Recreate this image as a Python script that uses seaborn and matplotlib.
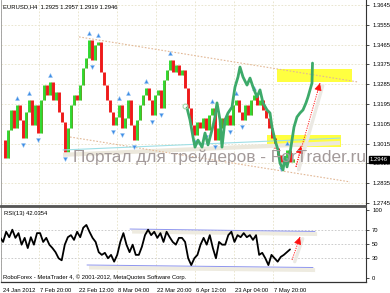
import numpy as np
import matplotlib
matplotlib.use("Agg")
import matplotlib.pyplot as plt
import matplotlib.transforms as mtrans
from matplotlib.patches import Rectangle
import seaborn as sns

# ---------------- data ----------------
close = [1.3031, 1.2950, 1.3077, 1.3168, 1.3086, 1.3190, 1.3122, 1.3040, 1.3159, 1.3213,
         1.3100, 1.3190, 1.3063, 1.3213, 1.3281, 1.3236, 1.3295, 1.3213, 1.3250, 1.3159,
         1.3113, 1.2977, 1.3086, 1.3190, 1.3236, 1.3213, 1.3281, 1.3359, 1.3404, 1.3486,
         1.3395, 1.3463, 1.3477, 1.3341, 1.3281, 1.3213, 1.3159, 1.3100, 1.3136, 1.3190,
         1.3086, 1.3131, 1.3213, 1.3100, 1.3031, 1.3122, 1.3190, 1.3236, 1.3268, 1.3213,
         1.3145, 1.3236, 1.3259, 1.3177, 1.3304, 1.3350, 1.3395, 1.3341, 1.3372, 1.3327,
         1.3350, 1.3268, 1.3177, 1.3100, 1.3054, 1.3113, 1.3086, 1.3131, 1.3077, 1.3145,
         1.3177, 1.3031, 1.3086, 1.3131, 1.3100, 1.3145, 1.3100, 1.3190, 1.3213, 1.3159,
         1.3122, 1.3190, 1.3145, 1.3213, 1.3236, 1.3190, 1.3213, 1.3168, 1.3131, 1.3086,
         1.3040, 1.2995, 1.2963, 1.2931, 1.2950, 1.2986, 1.2931, 1.2946]

green_bar = [61.67, 62.67, 63.67, 64.33, 65.33, 66.67, 67.67, 68.67, 70.0, 71.0, 71.67,
             72.67, 73.33, 74.33, 75.33, 76.67, 77.0, 77.67, 78.67, 79.33, 80.33, 81.67,
             82.67, 83.67, 85.0, 86.0, 87.0, 88.33, 89.33, 90.0, 91.0, 92.0, 92.67, 93.67,
             94.33, 95.0, 96.0, 96.67, 97.33, 98.33, 99.33, 100.33, 101.33, 102.0, 102.67,
             103.33, 103.5]
green_price = [1.3177, 1.3122, 1.3045, 1.2999, 1.3031, 1.2999, 1.3063, 1.3009, 1.3077,
               1.3136, 1.3200, 1.3122, 1.2999, 1.3122, 1.3154, 1.3181, 1.3213, 1.3272,
               1.3318, 1.3363, 1.3318, 1.3281, 1.3313, 1.3272, 1.3227, 1.3259, 1.3200,
               1.3168, 1.3154, 1.3090, 1.3031, 1.2986, 1.2927, 1.2895, 1.2954, 1.2909,
               1.2972, 1.3031, 1.3090, 1.3136, 1.3154, 1.3168, 1.3200, 1.3227, 1.3259,
               1.3290, 1.3381]

rsi = [60, 53, 68, 60, 71, 59, 66, 49, 59, 44, 60, 49, 66, 66, 53, 59, 49, 44, 38, 29,
       26, 49, 60, 63, 56, 68, 60, 74, 78, 68, 59, 53, 38, 34, 37, 29, 34, 24, 34, 53,
       66, 49, 38, 49, 34, 34, 46, 63, 71, 63, 68, 59, 66, 53, 68, 60, 53, 49, 59,
       59, 53, 29, 19, 29, 34, 49, 59, 49, 63, 44, 29, 53, 49, 49, 63, 68, 53, 63, 60,
       66, 60, 63, 56, 63, 34, 37, 29, 19, 34, 29, 24, 31, 34, 38, 42]

price_ticks = [1.3645, 1.3555, 1.3465, 1.3375, 1.3285, 1.3195, 1.3105, 1.3015, 1.2925, 1.2835, 1.2745]
price_tick_labels = ["1.3645", "1.3555", "1.3465", "1.3375", "1.3285", "1.3195", "1.3105",
                     "1.3015", "1.2925", "1.2835", "1.2745"]
rsi_ticks = [100, 70, 50, 30, 0]
time_ticks = [-0.3, 12.3, 25.3, 38.3, 51.3, 64.3, 77.3, 90.3]
time_labels = ["24 Jan 2012", "7 Feb 20:00", "22 Feb 12:00", "8 Mar 04:00", "22 Mar 20:00",
               "6 Apr 12:00", "23 Apr 04:00", "7 May 20:00"]

# annotation lines (bar, price)
upper_trend = ([25.67, 118.67], [1.3500, 1.3295])
lower_trend = ([22.67, 116.0], [1.3045, 1.2841])
support_line = ([20.33, 112.67], [1.2986, 1.3040])
box_hi = (91.67, 116.67, 1.3295, 1.3354)
box_lo = (88.33, 113.0, 1.2999, 1.3054)
arrow_big = ((98.0, 1.2909), (106.0, 1.3290))
arrow_small = ((98.0, 1.2909), (99.67, 1.3004))
rsi_upper = ([42.67, 104.33], [72.0, 68.4])
rsi_lower = ([28.33, 103.67], [19.1, 15.4])
rsi_arrow = ((96.67, 26.5), (99.33, 60.3))

# ---------------- style ----------------
sns.set_theme(style="white")
plt.rcParams['font.family'] = ['Liberation Sans', 'DejaVu Sans']

W, H = 390, 293
fig = plt.figure(figsize=(W / 100, H / 100), dpi=100)
fig.patch.set_facecolor("white")


def fax(l, t, r, b):
    return [l / W, 1 - b / H, (r - l) / W, (b - t) / H]


ax1 = fig.add_axes(fax(1, 0, 366, 206))
ax2 = fig.add_axes(fax(1, 207, 366, 282))
for ax in (ax1, ax2):
    ax.set_facecolor("white")
    ax.set_xlim(-0.333, 121.333)

ax1.set_ylim(1.27314, 1.36677)
ax2.set_ylim(-5.9, 104.4)

FS = 4.2
grid_main = dict(color="#e6e2c8", lw=0.6, ls=(0, (2, 2)))

# main grid
ax1.set_yticks(price_ticks)
ax1.set_yticklabels(price_tick_labels)
ax1.set_xticks(time_ticks)
ax1.tick_params(axis="x", length=0, labelbottom=False)
ax1.yaxis.tick_right()
ax1.tick_params(axis="y", length=2, width=0.5, pad=2.5, labelsize=FS, colors="black")
ax1.grid(True, **grid_main)
ax1.set_axisbelow(True)

# yellow boxes
for (x0, x1, y0, y1) in (box_hi, box_lo):
    ax1.add_patch(Rectangle((x0, y0), x1 - x0, y1 - y0, facecolor="#ffff40",
                            edgecolor="none", zorder=1))

# candles
c = np.array(close)
o = np.r_[c[0], c[:-1]]
xb = np.arange(len(c))
up = c >= o
ax1.vlines(xb[up], o[up], c[up], color="#2fd82f", lw=2.1, zorder=2)
ax1.vlines(xb[~up], c[~up], o[~up], color="#ee1a1a", lw=2.1, zorder=2)
ax1.vlines(xb[up] + 0.33, o[up], c[up], color="#8a6a10", lw=0.5, zorder=2.1, alpha=0.6)

# fractals
n = len(c)
upf = [i for i in range(2, n - 2) if c[i] >= c[i - 2:i + 3].max()]
dnf = [i for i in range(2, n - 2) if c[i] <= c[i - 2:i + 3].min()]
ax1.scatter(xb[upf], c[upf] + 0.0032, marker="^", s=9, color="#3f8ee6",
            edgecolor="#a9cff5", linewidth=0.3, zorder=4)
ax1.scatter(xb[dnf], c[dnf] - 0.0032, marker="v", s=9, color="#3f8ee6",
            edgecolor="#a9cff5", linewidth=0.3, zorder=4)

# trend lines
ax1.plot(*upper_trend, color="#e2b896", lw=0.8, ls=(0, (1.5, 1.5)), zorder=3)
ax1.plot(*lower_trend, color="#e2b896", lw=0.8, ls=(0, (1.5, 1.5)), zorder=3)
ax1.plot(support_line[0], [p - 0.0022 for p in support_line[1]], color="#ece8dc",
         lw=3.0, zorder=2.5, solid_capstyle="butt")
ax1.plot(*support_line, color="#9fdfe6", lw=0.8, zorder=3)

# green overlay
sns.lineplot(x=green_bar, y=green_price, ax=ax1, color="#3daa6a", lw=2.0,
             sort=False, zorder=5, estimator=None)
ax1.plot(green_bar[0] - 0.8, green_price[0] + 0.001, "o", mfc="none", mec="#9fd8a8",
         ms=3.5, mew=0.8, zorder=6)


def red_arrow(ax, start, end, shadow_dx, shadow_dy):
    (x0, y0), (x1, y1) = start, end
    ax.plot([x0 + shadow_dx, x1 + shadow_dx], [y0 - shadow_dy, y1 - shadow_dy],
            color="#ebe9e3", lw=2.4, zorder=6, solid_capstyle="round")
    ax.plot([x0, x1], [y0, y1], color="#ff2020", lw=0.7, ls=(0, (1.2, 1.2)), zorder=7)
    fx = x1 - (x1 - x0) * 0.1
    fy = y1 - (y1 - y0) * 0.1
    ax.annotate("", xy=(x1, y1), xytext=(fx, fy),
                arrowprops=dict(arrowstyle="-|>,head_length=0.9,head_width=0.45",
                                mutation_scale=5, color="#ff1010", lw=0.5,
                                shrinkA=0, shrinkB=0),
                zorder=8)


red_arrow(ax1, *arrow_big, 0.9, 0.0012)
red_arrow(ax1, *arrow_small, 0.9, 0.0012)

# spines
for s, col, lw in (("left", "#999999", 0.6), ("right", "#333333", 0.8),
                   ("bottom", "#555555", 1.3)):
    ax1.spines[s].set_color(col)
    ax1.spines[s].set_linewidth(lw)
ax1.spines["top"].set_visible(False)

# ---------------- RSI panel ----------------
ax2.set_yticks(rsi_ticks)
ax2.set_yticklabels([str(t) for t in rsi_ticks])
ax2.yaxis.tick_right()
ax2.tick_params(axis="y", length=2, width=0.5, pad=2.5, labelsize=FS, colors="black")
ax2.set_xticks(time_ticks)
ax2.set_xticklabels(time_labels)
ax2.tick_params(axis="x", length=2.5, width=0.5, pad=1.5, labelsize=FS, colors="black",
                direction="out")
offset = mtrans.ScaledTranslation(1.5 / 100, 0, fig.dpi_scale_trans)
for lbl in ax2.get_xticklabels():
    lbl.set_horizontalalignment("left")
    lbl.set_transform(lbl.get_transform() + offset)
ax2.grid(True, axis="x", **grid_main)
for lvl in (70, 50, 30):
    ax2.axhline(lvl, color="#c4c4c4", lw=0.6, ls=(0, (2, 2)), zorder=0)

for (xs, ys) in (rsi_upper, rsi_lower):
    ax2.plot([x + 0.7 for x in xs], [y - 3.8 for y in ys], color="#eeebe0", lw=2.8,
             zorder=1, solid_capstyle="butt")
    ax2.plot(xs, ys, color="#8f96ee", lw=0.7, zorder=2)

rsi_x = np.linspace(-0.67, 96.0, len(rsi))
sns.lineplot(x=rsi_x, y=rsi, ax=ax2, color="black", lw=1.3, zorder=3, estimator=None)
red_arrow(ax2, *rsi_arrow, 0.9, 2.5)
ax2.set_xlabel("")
ax2.set_ylabel("")
ax1.set_xlabel("")
ax1.set_ylabel("")

for s, col, lw in (("left", "#999999", 0.6), ("right", "#333333", 0.8),
                   ("bottom", "#333333", 0.9), ("top", "#555555", 1.3)):
    ax2.spines[s].set_color(col)
    ax2.spines[s].set_linewidth(lw)

# ---------------- texts ----------------
fig.text(3 / W, 1 - 7 / H, "EURUSD,H4  1.2925 1.2957 1.2919 1.2946", fontsize=FS,
         va="center", ha="left", color="black")
fig.text(4 / W, 1 - 213 / H, "RSI(13) 42.0354", fontsize=FS, va="center", ha="left",
         color="black")
fig.text(3 / W, 1 - 277 / H,
         "RoboForex - MetaTrader 4, \u00a9 2001-2012, MetaQuotes Software Corp.",
         fontsize=FS, va="center", ha="left", color="black")
fig.text(73 / W, 1 - 157 / H, "Портал для трейдеров - ForTrader.ru", fontsize=12.4,
         va="center", ha="left", color="#a39a9a", zorder=9)
fig.text(370 / W, 1 - 159.5 / H, "1.2946", fontsize=FS, va="center", ha="left",
         color="white", zorder=20,
         bbox=dict(boxstyle="square,pad=0.25", facecolor="black", edgecolor="black"))

fig.savefig("out.png", dpi=100, facecolor="white")
